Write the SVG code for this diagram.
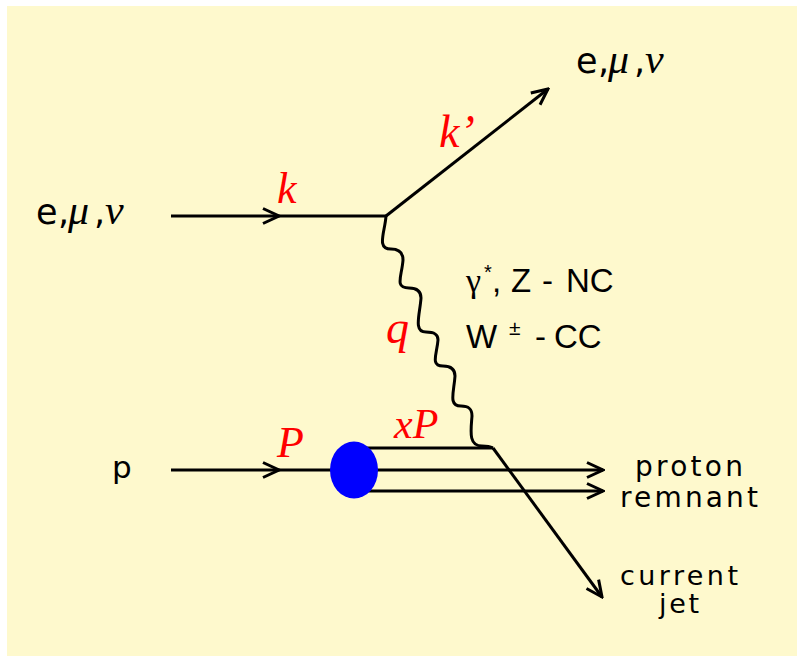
<svg xmlns="http://www.w3.org/2000/svg" width="797" height="656" viewBox="0 0 797 656">
<style>
.ln{stroke:#000;stroke-width:3;fill:none}
.lbl{font-family:"DejaVu Sans","Liberation Sans",sans-serif;font-size:31px;fill:#000}
.sym{font-family:"Liberation Serif",serif;font-style:italic;font-size:42px;fill:#000}
.red{font-family:"Liberation Serif",serif;font-style:italic;fill:#ff0000}
.ar{font-family:"Liberation Sans",Arial,sans-serif;font-size:33px;fill:#000}
</style>
<defs>
<marker id="arr" markerUnits="userSpaceOnUse" viewBox="-20 -10 22 20" markerWidth="22" markerHeight="20" refX="0" refY="0" orient="auto">
<path d="M-16,-7.5 L0,0 L-16,7.5" fill="none" stroke="#000" stroke-width="3"/>
</marker>
</defs>
<rect x="7" y="6" width="790" height="650" fill="#fef9cd"/>
<g id="connectors">
<line class="ln" x1="171" y1="216" x2="279" y2="216" marker-end="url(#arr)"/>
<line class="ln" x1="279" y1="216" x2="386" y2="216"/>
<line class="ln" x1="386" y1="216" x2="548" y2="89" marker-end="url(#arr)"/>
<path class="ln" d="M386,216 C385,232 376,249 391,249 C399,249 403,253 403,260 C402,276 394,288 409,288 C417,288 421,291 421,298 C420,314 413,332 426,332 C434,332 438,334 438,340 C437,354 430,366 443,366 C451,366 455,369 455,376 C454,392 448,406 461,406 C469,406 472,409 472,416 C471,430 468,446 482,446 C488,446 491,447 493,448"/>
<line class="ln" x1="171" y1="470" x2="279" y2="470" marker-end="url(#arr)"/>
<line class="ln" x1="279" y1="470" x2="354" y2="470"/>
<line class="ln" x1="360" y1="448" x2="493" y2="448"/>
<line class="ln" x1="354" y1="470" x2="603" y2="470" marker-end="url(#arr)"/>
<line class="ln" x1="360" y1="491" x2="603" y2="491" marker-end="url(#arr)"/>
<line class="ln" x1="493" y1="448" x2="602" y2="597" marker-end="url(#arr)"/>
</g>
<g id="proton-blob">
<ellipse cx="354" cy="470" rx="24" ry="28.5" fill="#0000ff"/>
</g>
<g id="lepton-in">
<text y="224"><tspan class="lbl" x="36" style="font-size:35px">e</tspan><tspan class="lbl" x="58" style="font-size:35px">,</tspan><tspan class="sym" x="68">μ</tspan><tspan class="lbl" x="94" style="font-size:35px">,</tspan><tspan class="sym" x="105">ν</tspan></text>
</g>
<g id="lepton-out">
<text y="73"><tspan class="lbl" x="576" style="font-size:35px">e</tspan><tspan class="lbl" x="598" style="font-size:35px">,</tspan><tspan class="sym" x="608">μ</tspan><tspan class="lbl" x="634" style="font-size:35px">,</tspan><tspan class="sym" x="645">ν</tspan></text>
</g>
<g id="proton-in">
<text class="lbl" x="112" y="478" style="font-size:31px">p</text>
</g>
<g id="momentum-labels">
<text class="red" x="277" y="203" font-size="44">k</text>
<text class="red" x="439" y="147" font-size="46">k’</text>
<text class="red" x="386" y="343" font-size="46">q</text>
<text class="red" x="394" y="438" font-size="42">xP</text>
<text class="red" x="277" y="457" font-size="44">P</text>
</g>
<g id="boson-label">
<text class="ar" y="292"><tspan x="466" style="font-family:'Liberation Serif',serif;font-size:34px">γ</tspan><tspan x="484" y="279" style="font-size:20px">*</tspan><tspan x="492" y="292">,</tspan><tspan x="511">Z</tspan><tspan x="542">-</tspan><tspan x="566">NC</tspan></text>
<text class="ar" y="348"><tspan x="466">W</tspan><tspan x="509" y="335" style="font-size:21px">±</tspan><tspan x="535" y="348">-</tspan><tspan x="554">CC</tspan></text>
</g>
<g id="remnant">
<text class="lbl" style="font-size:28px"><tspan x="635" y="476" textLength="108">proton</tspan><tspan x="620" y="507" textLength="138">remnant</tspan></text>
</g>
<g id="jet">
<text class="lbl" style="font-size:27px"><tspan x="620" y="585" textLength="118">current</tspan><tspan x="659" y="613" textLength="40">jet</tspan></text>
</g>
</svg>
